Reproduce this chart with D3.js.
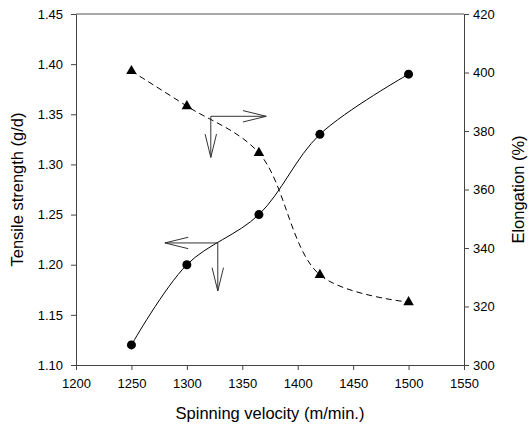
<!DOCTYPE html>
<meta charset="utf-8">
<style>
body { margin: 0; background: #fff; }
text { font-family: Arial, "Liberation Sans", sans-serif; }
.axis path, .axis line { stroke: #444; }
.axis text { font-size: 13px; fill: #000; }
</style>
<body>
<script src="https://d3js.org/d3.v7.min.js"></script>
<div id="chart"></div>
<script>
// spinning velocity (m/min.)
var velocity = [1250, 1300, 1365, 1420, 1500];
// tensile strength (g/d), left axis
var tensile = [1.12, 1.20, 1.25, 1.33, 1.39];
// elongation (%), right axis
var elongation = [400.5, 388.5, 372.5, 330.8, 321.5];

var xTicks = [1200, 1250, 1300, 1350, 1400, 1450, 1500, 1550];
var yLeftTicks = [1.10, 1.15, 1.20, 1.25, 1.30, 1.35, 1.40, 1.45];
var yRightTicks = [300, 320, 340, 360, 380, 400, 420];

// arrow annotations in data units (velocity, tensile scale)
var arrowElong = {x: 1321.6, y: 1.348, toX: 1371.6, toY: 1.307};
var arrowTens = {x: 1327.9, y: 1.2217, toX: 1280.2, toY: 1.1738};

var margin = {top: 14, right: 65, bottom: 61, left: 76},
    width = 529 - margin.left - margin.right,
    height = 426 - margin.top - margin.bottom;

var svg = d3.select("#chart").append("svg")
    .attr("width", 529)
    .attr("height", 426)
  .append("g")
    .attr("transform", "translate(" + margin.left + "," + margin.top + ")");

var x = d3.scaleLinear().domain([1200, 1550]).range([0, width]);
var y = d3.scaleLinear().domain([1.10, 1.45]).range([height, 0]);
var y2 = d3.scaleLinear().domain([300, 420]).range([height, 0]);

// top frame line
svg.append("line")
    .attr("x1", 0).attr("x2", width)
    .attr("y1", 0).attr("y2", 0)
    .attr("stroke", "#555");

svg.append("g")
    .attr("class", "axis")
    .attr("transform", "translate(0," + height + ")")
    .call(d3.axisBottom(x).tickValues(xTicks).tickSize(5).tickSizeOuter(0)
      .tickFormat(d3.format("d")).tickPadding(9));

svg.append("g")
    .attr("class", "axis")
    .call(d3.axisLeft(y).tickValues(yLeftTicks).tickSize(5).tickSizeOuter(0)
      .tickFormat(d3.format(".2f")).tickPadding(8));

svg.append("g")
    .attr("class", "axis")
    .attr("transform", "translate(" + width + ",0)")
    .call(d3.axisRight(y2).tickValues(yRightTicks).tickSize(5).tickSizeOuter(0).tickPadding(4))
    .selectAll("path, line").attr("stroke", "#000");

var tensData = velocity.map(function(v, i) { return [v, tensile[i]]; });
var elongData = velocity.map(function(v, i) { return [v, elongation[i]]; });

// tensile curve (solid)
svg.append("path")
    .datum(tensData)
    .attr("fill", "none")
    .attr("stroke", "#000")
    .attr("stroke-width", 1)
    .attr("d", d3.line()
      .curve(d3.curveCatmullRom)
      .x(function(d) { return x(d[0]); })
      .y(function(d) { return y(d[1]); }));

// elongation curve (dashed)
svg.append("path")
    .datum(elongData)
    .attr("fill", "none")
    .attr("stroke", "#000")
    .attr("stroke-width", 1)
    .attr("stroke-dasharray", "6,4")
    .attr("d", d3.line()
      .curve(d3.curveCatmullRom)
      .x(function(d) { return x(d[0]); })
      .y(function(d) { return y2(d[1]); }));

svg.selectAll("circle.pt")
    .data(tensData)
    .enter()
    .append("circle")
      .attr("class", "pt")
      .attr("cx", function(d) { return x(d[0]); })
      .attr("cy", function(d) { return y(d[1]); })
      .attr("r", 4.5)
      .attr("fill", "#000");

svg.selectAll("path.tri")
    .data(elongData)
    .enter()
    .append("path")
      .attr("class", "tri")
      .attr("d", d3.symbol().type(d3.symbolTriangle).size(48))
      .attr("transform", function(d) { return "translate(" + x(d[0]) + "," + y2(d[1]) + ")"; })
      .attr("fill", "#000");

// open arrows
function drawArrow(x1, y1, x2, y2p) {
  var g = svg.append("g").attr("stroke", "#333").attr("fill", "none").attr("stroke-width", 1);
  g.append("line").attr("x1", x1).attr("y1", y1).attr("x2", x2).attr("y2", y2p);
  var ang = Math.atan2(y2p - y1, x2 - x1), len = 24, spread = 0.24;
  [ang + Math.PI - spread, ang + Math.PI + spread].forEach(function(a) {
    g.append("line")
      .attr("x1", x2).attr("y1", y2p)
      .attr("x2", x2 + len * Math.cos(a)).attr("y2", y2p + len * Math.sin(a));
  });
}
[arrowElong, arrowTens].forEach(function(a) {
  drawArrow(x(a.x), y(a.y), x(a.toX), y(a.y));
  drawArrow(x(a.x), y(a.y), x(a.x), y(a.toY));
});

// axis titles
svg.append("text")
    .attr("text-anchor", "middle")
    .attr("x", width / 2)
    .attr("y", height + 54)
    .attr("font-size", "16.5px")
    .text("Spinning velocity (m/min.)");

svg.append("text")
    .attr("text-anchor", "middle")
    .attr("transform", "rotate(-90)")
    .attr("x", -height / 2)
    .attr("y", -53)
    .attr("font-size", "16.5px")
    .text("Tensile strength (g/d)");

svg.append("text")
    .attr("text-anchor", "middle")
    .attr("transform", "rotate(-90)")
    .attr("x", -height / 2)
    .attr("y", width + 60)
    .attr("font-size", "16.5px")
    .text("Elongation (%)");
</script>
</body>
